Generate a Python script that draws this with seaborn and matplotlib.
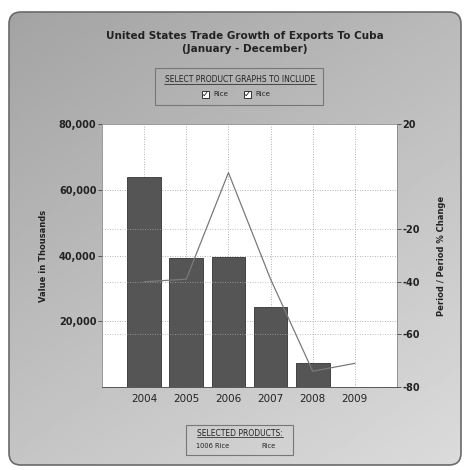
import numpy as np
import pandas as pd
import matplotlib
matplotlib.use("Agg")
import matplotlib.pyplot as plt
from matplotlib.patches import FancyBboxPatch
import seaborn as sns

# data
years = ["2004", "2005", "2006", "2007", "2008", "2009"]
bar_years = ["2004", "2005", "2006", "2007", "2008"]
export_values = [63900, 39100, 39400, 24200, 7300]
pct_change = [-40, -39, 1.5, -39, -74, -71]

left_ticks = [20000, 40000, 60000, 80000]
left_labels = ["20,000", "40,000", "60,000", "80,000"]
right_ticks = [-80, -60, -40, -20, 20]

sns.set_theme(style="white")
plt.rcParams["font.family"] = ["DejaVu Sans"]
plt.rcParams["axes.unicode_minus"] = False

W, H = 467, 470
fig = plt.figure(figsize=(W / 100, H / 100), dpi=100)
fig.patch.set_facecolor("white")

# background panel with a soft grey gradient
bg = fig.add_axes([0, 0, 1, 1])
bg.set_xlim(0, W)
bg.set_ylim(H, 0)
bg.axis("off")
gx, gy = np.meshgrid(np.linspace(0, 1, 200), np.linspace(0, 1, 200))
grad = 0.64 + 0.22 * (0.4 * gx + 0.6 * gy)
panel = FancyBboxPatch((9, 12), 452, 453, boxstyle="round,pad=0,rounding_size=12",
                       facecolor="none", edgecolor="#6a6a6a", lw=1.2)
bg.add_patch(panel)
im = bg.imshow(grad, cmap="gray", vmin=0, vmax=1, extent=(9, 461, 465, 12), aspect="auto")
im.set_clip_path(panel)

# title
bg.text(245, 36, "United States Trade Growth of Exports To Cuba", ha="center", va="center",
        fontsize=7.5, fontweight="bold", color="#222222")
bg.text(245, 49, "(January - December)", ha="center", va="center",
        fontsize=7.5, fontweight="bold", color="#222222")

# top legend box
bg.add_patch(FancyBboxPatch((155, 68), 168, 37, boxstyle="square,pad=0",
                            facecolor="none", edgecolor="#777777", lw=0.8))
bg.text(240, 79, "SELECT PRODUCT GRAPHS TO INCLUDE", ha="center", va="center",
        fontsize=5.5, color="#222222")
bg.plot([164, 316], [83.5, 83.5], color="#333333", lw=0.6)
for cx in (205, 247):
    bg.add_patch(FancyBboxPatch((cx - 3.5, 90.5), 7, 7, boxstyle="square,pad=0",
                                facecolor="white", edgecolor="#333333", lw=0.7))
    bg.text(cx, 94, "\u2713", ha="center", va="center", fontsize=6, color="#111111")
    bg.text(cx + 8, 94, "Rice", ha="left", va="center", fontsize=5, color="#222222")

# bottom legend box
bg.add_patch(FancyBboxPatch((186, 425), 107, 30, boxstyle="square,pad=0",
                            facecolor="none", edgecolor="#777777", lw=0.8))
bg.text(240, 433, "SELECTED PRODUCTS:", ha="center", va="center", fontsize=5.5, color="#222222")
bg.plot([197, 283], [437, 437], color="#333333", lw=0.6)
bg.text(213, 446, "1006 Rice", ha="center", va="center", fontsize=4.8, color="#222222")
bg.text(268, 446, "Rice", ha="center", va="center", fontsize=4.8, color="#222222")

# main axes
ax = fig.add_axes([102 / W, 1 - 387 / H, 295 / W, 263 / H])
ax.set_facecolor("white")
df = pd.DataFrame({"year": bar_years, "value": export_values})
sns.barplot(data=df, x="year", y="value", order=years, color="#555555",
            edgecolor="#333333", linewidth=0.6, width=0.8, saturation=1, ax=ax, zorder=2)
ax.set_ylim(0, 80000)
ax.set_yticks(left_ticks)
ax.set_yticklabels(left_labels)
ax.set_xlabel("")
ax.set_ylabel("Value in Thousands", fontsize=6, fontweight="bold", color="#222222", labelpad=8)
ax.tick_params(axis="y", labelsize=7, length=3, width=0.6, colors="#444444", pad=1)
ax.tick_params(axis="x", labelsize=7.5, length=3, width=0.6, colors="#444444", pad=2)
for lab in ax.get_yticklabels():
    lab.set_fontweight("bold")
    lab.set_color("#222222")
for lab in ax.get_xticklabels():
    lab.set_color("#222222")
ax.grid(True, axis="both", linestyle=(0, (1, 2)), color="#999999", lw=0.6)
ax.set_axisbelow(True)
for s in ax.spines.values():
    s.set_color("#888888")
    s.set_linewidth(0.6)
    s.set_linestyle((0, (1, 1)))
ax.spines["bottom"].set_linestyle("-")
ax.spines["bottom"].set_color("#444444")

# percent change on the right axis
ax2 = ax.twinx()
pos = np.arange(len(years))
sns.lineplot(x=pos, y=pct_change, color="#7a7a7a", lw=0.9, ax=ax2, zorder=3)
ax2.set_ylim(-80, 20)
ax2.set_yticks(right_ticks)
ax2.grid(True, axis="y", linestyle=(0, (1, 2)), color="#aaaaaa", lw=0.6)
ax2.set_ylabel("Period / Period % Change", fontsize=6, fontweight="bold", color="#222222",
               labelpad=12)
ax2.tick_params(axis="y", labelsize=7, length=3, width=0.6, colors="#444444", pad=1)
for lab in ax2.get_yticklabels():
    lab.set_fontweight("bold")
    lab.set_color("#222222")
for s in ax2.spines.values():
    s.set_visible(False)
ax.set_xlim(-1, 6)

fig.savefig("out.png", dpi=100)
